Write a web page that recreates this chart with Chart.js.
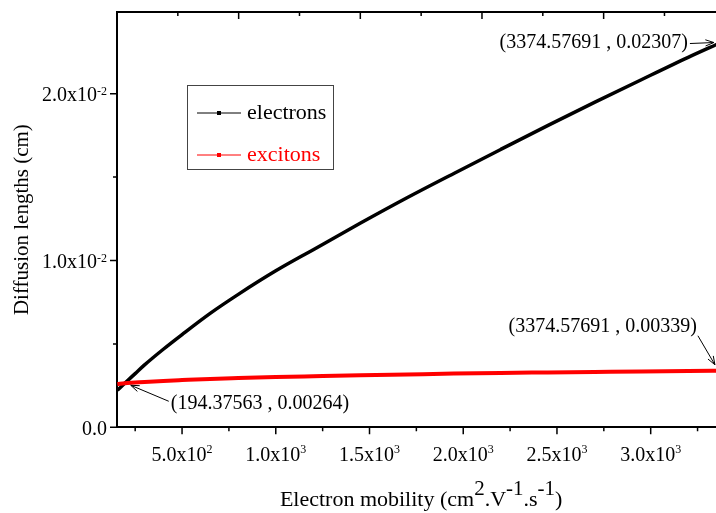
<!DOCTYPE html>
<html>
<head>
<meta charset="utf-8">
<script src="https://cdn.jsdelivr.net/npm/chart.js@4.4.0/dist/chart.umd.min.js"></script>
<style>
  html, body { margin: 0; padding: 0; background: #fff; overflow: hidden; }
  #wrap { width: 740px; height: 513px; }
</style>
</head>
<body>
<div id="wrap"><canvas id="diffusion" width="740" height="513"></canvas></div>
<script>
// mobility (cm2/Vs) and diffusion lengths (cm)
const mobility = [155, 194.37563, 250, 300, 400, 500, 650, 800, 1000, 1200, 1450, 1700, 1950, 2200, 2450, 2700, 2950, 3200, 3374.57691];
const electrons = [0.00222, 0.00264, 0.00322, 0.00374, 0.00468, 0.00556, 0.00683, 0.00797, 0.00938, 0.01065, 0.01223, 0.01376, 0.01522, 0.01666, 0.01809, 0.01948, 0.02084, 0.02218, 0.02307];
const excitons = [0.00259, 0.00264, 0.00268, 0.00272, 0.00278, 0.00283, 0.00290, 0.00295, 0.00301, 0.00306, 0.00312, 0.00317, 0.00322, 0.00326, 0.00329, 0.00332, 0.00335, 0.00337, 0.00339];

// axis ticks
const xTicks = [500, 1000, 1500, 2000, 2500, 3000];
const xTickLabels = ['5.0x10', '1.0x10', '1.5x10', '2.0x10', '2.5x10', '3.0x10'];
const xTickPowers = ['2', '3', '3', '3', '3', '3'];
const xMinorTicks = [250, 750, 1250, 1750, 2250, 2750, 3250];
const yTicks = [0, 0.01, 0.02];
const yTickLabels = ['0.0', '1.0x10', '2.0x10'];
const yTickPowers = ['', '-2', '-2'];
const yMinorTicks = [0.005, 0.015];
const topTicks = [0, 1, 2, 3, 4, 5];
const topMinorTicks = [0.5, 1.5, 2.5, 3.5, 4.5];

// labelled points
const notes = [
  { text: '(3374.57691 , 0.02307)', x: 3374.57691, y: 0.02307, dx: -33, dy: 0, align: 'right', from: [-31, 1], to: [-7, 0] },
  { text: '(3374.57691 , 0.00339)', x: 3374.57691, y: 0.00339, dx: -24, dy: -44, align: 'right', from: [-23, -35], to: [-6, -6] },
  { text: '(194.37563 , 0.00264)', x: 194.37563, y: 0.00264, dx: 46, dy: 20, align: 'left', from: [44, 18], to: [6, 2] }
];

const SERIF = '"Liberation Serif", "Times New Roman", serif';

function points(ys) {
  return mobility.map((x, i) => ({ x: x, y: ys[i] }));
}

// draws text made of normal and superscript parts
function supText(ctx, parts, x, y, align, size, supSize, raise) {
  let width = 0;
  parts.forEach((p) => {
    ctx.font = (p.sup ? supSize : size) + 'px ' + SERIF;
    width += ctx.measureText(p.text).width;
  });
  let left = x;
  if (align === 'center') left = x - width / 2;
  if (align === 'right') left = x - width;
  ctx.textAlign = 'left';
  ctx.textBaseline = 'alphabetic';
  parts.forEach((p) => {
    ctx.font = (p.sup ? supSize : size) + 'px ' + SERIF;
    ctx.fillText(p.text, left, p.sup ? y - raise : y);
    left += ctx.measureText(p.text).width;
  });
}

function arrow(ctx, x1, y1, x2, y2) {
  const ang = Math.atan2(y2 - y1, x2 - x1);
  ctx.beginPath();
  ctx.moveTo(x1, y1);
  ctx.lineTo(x2, y2);
  ctx.moveTo(x2 - 9 * Math.cos(ang - 0.35), y2 - 9 * Math.sin(ang - 0.35));
  ctx.lineTo(x2, y2);
  ctx.lineTo(x2 - 9 * Math.cos(ang + 0.35), y2 - 9 * Math.sin(ang + 0.35));
  ctx.stroke();
}

const decorations = {
  id: 'decorations',
  afterDraw(chart) {
    const { ctx, chartArea: area, scales: { x, x2, y } } = chart;
    ctx.save();
    ctx.strokeStyle = '#000';
    ctx.fillStyle = '#000';
    ctx.lineWidth = 1.5;

    // tick marks
    ctx.beginPath();
    xTicks.forEach((v) => { const p = x.getPixelForValue(v); ctx.moveTo(p, area.bottom); ctx.lineTo(p, area.bottom + 7); });
    xMinorTicks.forEach((v) => { const p = x.getPixelForValue(v); ctx.moveTo(p, area.bottom); ctx.lineTo(p, area.bottom + 4); });
    yTicks.forEach((v) => { const p = y.getPixelForValue(v); ctx.moveTo(area.left, p); ctx.lineTo(area.left - 7, p); });
    yMinorTicks.forEach((v) => { const p = y.getPixelForValue(v); ctx.moveTo(area.left, p); ctx.lineTo(area.left - 4, p); });
    topTicks.forEach((v) => { const p = x2.getPixelForValue(v); ctx.moveTo(p, area.top); ctx.lineTo(p, area.top + 7); });
    topMinorTicks.forEach((v) => { const p = x2.getPixelForValue(v); ctx.moveTo(p, area.top); ctx.lineTo(p, area.top + 4); });
    ctx.stroke();

    // tick labels
    xTicks.forEach((v, i) => {
      supText(ctx, [{ text: xTickLabels[i] }, { text: xTickPowers[i], sup: true }],
        x.getPixelForValue(v), area.bottom + 34, 'center', 20, 12, 8);
    });
    yTicks.forEach((v, i) => {
      supText(ctx, [{ text: yTickLabels[i] }, { text: yTickPowers[i], sup: true }],
        area.left - 10, y.getPixelForValue(v) + 7.5, 'right', 20, 12, 6);
    });

    // axis titles
    supText(ctx, [
      { text: 'Electron mobility (cm' }, { text: '2', sup: true },
      { text: '.V' }, { text: '-1', sup: true },
      { text: '.s' }, { text: '-1', sup: true }, { text: ')' }
    ], (area.left + area.right) / 2, area.bottom + 79, 'center', 22, 21, 11);

    ctx.save();
    ctx.translate(22, (area.top + area.bottom) / 2);
    ctx.rotate(-Math.PI / 2);
    ctx.font = '21px ' + SERIF;
    ctx.textAlign = 'center';
    ctx.textBaseline = 'middle';
    ctx.fillText('Diffusion lengths (cm)', 0, 0);
    ctx.restore();

    // point labels with arrows
    ctx.lineWidth = 1;
    notes.forEach((n) => {
      const px = x.getPixelForValue(n.x);
      const py = y.getPixelForValue(n.y);
      ctx.font = '20px ' + SERIF;
      ctx.textAlign = n.align;
      ctx.textBaseline = 'middle';
      ctx.fillText(n.text, px + n.dx, py + n.dy);
      arrow(ctx, px + n.from[0], py + n.from[1], px + n.to[0], py + n.to[1]);
    });

    // legend box
    const box = { left: 187, top: 85, width: 146, height: 84 };
    ctx.strokeStyle = '#444';
    ctx.lineWidth = 1;
    ctx.strokeRect(box.left + 0.5, box.top + 0.5, box.width, box.height);
    chart.data.datasets.slice().reverse().forEach((ds, i) => {
      const rowY = box.top + 28 + i * 42;
      ctx.strokeStyle = ds.borderColor;
      ctx.fillStyle = ds.borderColor;
      ctx.beginPath();
      ctx.moveTo(box.left + 10, rowY);
      ctx.lineTo(box.left + 54, rowY);
      ctx.stroke();
      ctx.fillRect(box.left + 30, rowY - 2, 4, 4);
      ctx.font = '22px ' + SERIF;
      ctx.textAlign = 'left';
      ctx.textBaseline = 'middle';
      ctx.fillText(ds.label, box.left + 60, rowY);
    });

    ctx.restore();
  }
};

const ctx = document.getElementById('diffusion');
new Chart(ctx, {
  type: 'line',
  data: {
    datasets: [
      {
        label: 'excitons',
        data: points(excitons),
        borderColor: '#ff0000',
        borderWidth: 4,
        pointRadius: 0,
        cubicInterpolationMode: 'monotone',
        order: 0
      },
      {
        label: 'electrons',
        data: points(electrons),
        borderColor: '#000000',
        borderWidth: 3.5,
        pointRadius: 0,
        cubicInterpolationMode: 'monotone',
        order: 1
      }
    ]
  },
  options: {
    responsive: false,
    animation: false,
    layout: {
      padding: { left: 117, top: 12, right: 14.7, bottom: 85.7 }
    },
    plugins: {
      legend: { display: false },
      tooltip: { enabled: false }
    },
    scales: {
      x: {
        type: 'linear',
        position: 'bottom',
        min: 153,
        max: 3398,
        grid: { display: false, drawTicks: false },
        ticks: { display: false },
        border: { color: '#000', width: 2 }
      },
      x2: {
        type: 'linear',
        position: 'top',
        min: 0,
        max: 5,
        grid: { display: false, drawTicks: false },
        ticks: { display: false },
        border: { color: '#000', width: 2 }
      },
      y: {
        min: 0,
        max: 0.0249,
        grid: { display: false, drawTicks: false },
        ticks: { display: false },
        border: { color: '#000', width: 2 }
      }
    }
  },
  plugins: [decorations]
});
</script>
</body>
</html>
